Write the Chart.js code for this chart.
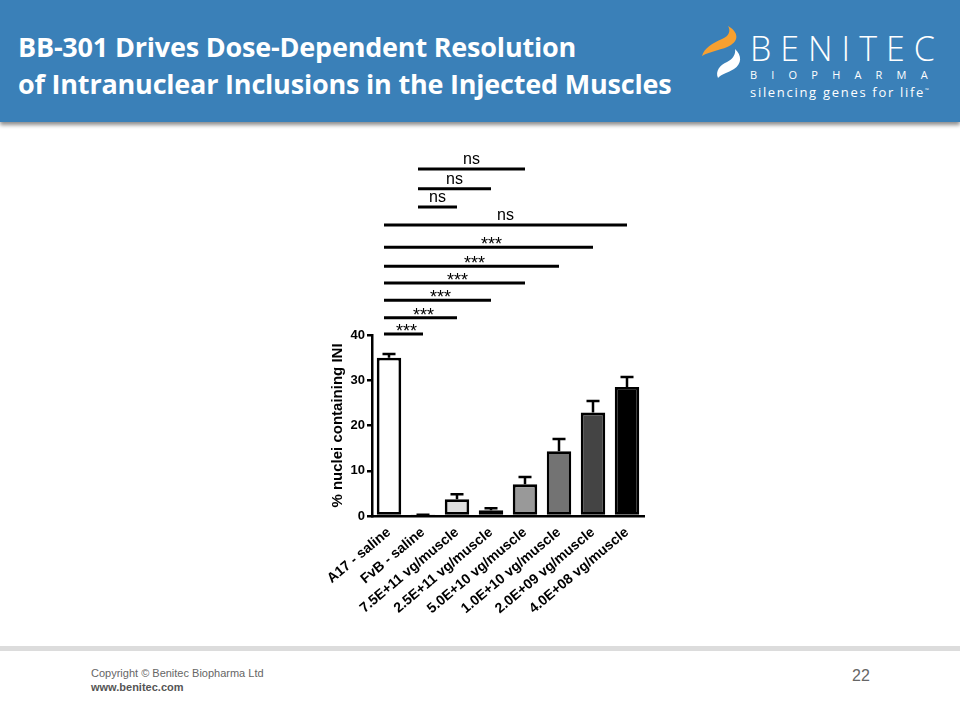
<!DOCTYPE html>
<html>
<head>
<meta charset="utf-8">
<script src="https://cdn.jsdelivr.net/npm/chart.js@4/dist/chart.umd.min.js"></script>
<style>
  body { margin: 0; width: 960px; height: 720px; background: #fff; position: relative; overflow: hidden; font-family: "Liberation Sans", Arial, sans-serif; }
  #header { position: absolute; left: 0; top: 0; width: 960px; height: 122px; background: #3a80b8; box-shadow: 0 3px 4px rgba(0,0,0,0.45); }
  #title { position: absolute; left: 18px; top: 28px; color: #fff; font-family: "Open Sans", sans-serif; font-weight: 700; font-size: 27px; line-height: 37px; letter-spacing: -0.2px; }
  #logo { position: absolute; left: 695px; top: 18px; }
  #brand { position: absolute; left: 750px; top: 29px; color: #fff; font-family: "Open Sans", sans-serif; }
  #brand .b1 { font-size: 34px; font-weight: 300; letter-spacing: 9px; line-height: 38px; }
  #brand .b2 { font-size: 11px; letter-spacing: 14.2px; line-height: 14px; margin-top: 1px; }
  #brand .b3 { font-size: 13px; letter-spacing: 1.7px; line-height: 16px; }
  #footline { position: absolute; left: 0; top: 646px; width: 960px; height: 5px; background: #dcdcdc; }
  #copy { position: absolute; left: 91px; top: 666px; font-size: 11px; color: #666; line-height: 14px; }
  #copy b { color: #555; }
  #page { position: absolute; left: 852px; top: 667px; font-size: 16px; color: #666; }
  #wrap { position: absolute; left: 300px; top: 140px; width: 360px; height: 500px; }
</style>
</head>
<body>
<div id="header">
  <div id="title">BB-301 Drives Dose-Dependent Resolution<br>of Intranuclear Inclusions in the Injected Muscles</div>
  <svg id="logo" width="55" height="80" viewBox="0 0 55 80">
    <path d="M33 8 C42 13 45 21 36 27 C28 32 15 33 7 38 C9 30 18 25 27 21 C34 18 36 13 33 8 Z" fill="#f7a030"/>
    <path d="M40 31 C47 37 47 46 39 51 C33 55 26 56 23 60 C20 53 25 47 32 44 C38 41 41 36 40 31 Z" fill="#fff"/>
  </svg>
  <div id="brand">
    <div class="b1">BENITEC</div>
    <div class="b2">BIOPHARMA</div>
    <div class="b3">silencing genes for life<sup style="font-size:5px">™</sup></div>
  </div>
</div>
<div id="wrap"><canvas id="c" width="360" height="500"></canvas></div>
<div id="footline"></div>
<div id="copy">Copyright © Benitec Biopharma Ltd<br><b>www.benitec.com</b></div>
<div id="page">22</div>
<script>
const groups = ["A17 - saline", "FvB - saline", "7.5E+11 vg/muscle", "2.5E+11 vg/muscle",
  "5.0E+10 vg/muscle", "1.0E+10 vg/muscle", "2.0E+09 vg/muscle", "4.0E+08 vg/muscle"];
const meanINI = [35.0, 0.2, 3.7, 1.25, 7.0, 14.3, 22.9, 28.5];
const semINI = [0.8, 0.1, 1.1, 0.45, 1.6, 2.7, 2.5, 2.2];
const barFill = ["#ffffff", "#ffffff", "#dddddd", "#cccccc", "#999999", "#737373", "#444444", "#000000"];
const yTicks = [0, 10, 20, 30, 40];

// significance brackets: from group, to group, label, height (% axis units)
const bracketFrom = [0, 0, 0, 0, 0, 0, 0, 1, 1, 1];
const bracketTo = [1, 2, 3, 4, 5, 6, 7, 2, 3, 4];
const bracketLabel = ["***", "***", "***", "***", "***", "***", "ns", "ns", "ns", "ns"];
const bracketY = [40.2, 43.8, 47.7, 51.5, 55.2, 59.4, 64.3, 68.3, 72.3, 76.7];

const errorBars = {
  id: "errorBars",
  afterDatasetsDraw(chart) {
    const ctx = chart.ctx;
    const y = chart.scales.y;
    const meta = chart.getDatasetMeta(0);
    ctx.save();
    ctx.strokeStyle = "#000";
    ctx.lineWidth = 2.5;
    meta.data.forEach((bar, i) => {
      const top = y.getPixelForValue(meanINI[i] + semINI[i]);
      ctx.beginPath();
      ctx.moveTo(bar.x, bar.y);
      ctx.lineTo(bar.x, top);
      ctx.moveTo(bar.x - 6.5, top);
      ctx.lineTo(bar.x + 6.5, top);
      ctx.stroke();
    });
    ctx.restore();
  }
};

const brackets = {
  id: "brackets",
  afterDraw(chart) {
    const ctx = chart.ctx;
    const x = chart.scales.x;
    const y = chart.scales.y;
    ctx.save();
    ctx.strokeStyle = "#000";
    ctx.fillStyle = "#000";
    ctx.lineWidth = 3;
    ctx.textAlign = "center";
    ctx.textBaseline = "alphabetic";
    for (let i = 0; i < bracketY.length; i++) {
      const x1 = x.getPixelForValue(bracketFrom[i]) - 5;
      const x2 = x.getPixelForValue(bracketTo[i]);
      const py = y.getPixelForValue(bracketY[i]);
      ctx.beginPath();
      ctx.moveTo(x1, py);
      ctx.lineTo(x2, py);
      ctx.stroke();
      if (bracketLabel[i] === "ns") {
        ctx.font = "16px 'Liberation Sans'";
        ctx.fillText("ns", (x1 + x2) / 2, py - 5);
      } else {
        ctx.font = "18px 'Liberation Sans'";
        ctx.fillText("***", (x1 + x2) / 2 + 3, py + 3);
      }
    }
    ctx.restore();
  }
};

new Chart(document.getElementById("c"), {
  type: "bar",
  data: {
    labels: groups,
    datasets: [{
      data: meanINI,
      backgroundColor: barFill,
      borderColor: "#000",
      borderWidth: 2.8,
      borderSkipped: false,
      barPercentage: 0.72,
      categoryPercentage: 1
    }]
  },
  options: {
    responsive: false,
    animation: false,
    layout: { padding: { left: 0, right: 16, top: 195, bottom: 0 } },
    plugins: { legend: { display: false }, tooltip: { enabled: false } },
    scales: {
      x: {
        grid: { display: false },
        border: { color: "#000", width: 2.5 },
        ticks: {
          color: "#000", minRotation: 40, maxRotation: 40, padding: 0,
          font: { family: "Liberation Sans", weight: "bold", size: 14 }
        },
        afterFit(scale) { scale.height = 124; }
      },
      y: {
        min: 0, max: 40,
        afterBuildTicks(scale) { scale.ticks = yTicks.map(v => ({ value: v })); },
        grid: { drawOnChartArea: false, drawTicks: true, tickLength: 5, color: "#000", lineWidth: 2.5 },
        border: { color: "#000", width: 2.5 },
        ticks: {
          color: "#000", padding: 2,
          font: { family: "Liberation Sans", weight: "bold", size: 13 }
        },
        title: {
          display: true, text: "% nuclei containing INI", color: "#000", padding: { top: 29, bottom: 0 },
          font: { family: "Liberation Sans", weight: "bold", size: 15 }
        },
        afterFit(scale) { scale.width = 72; }
      }
    }
  },
  plugins: [errorBars, brackets]
});
</script>
</body>
</html>
